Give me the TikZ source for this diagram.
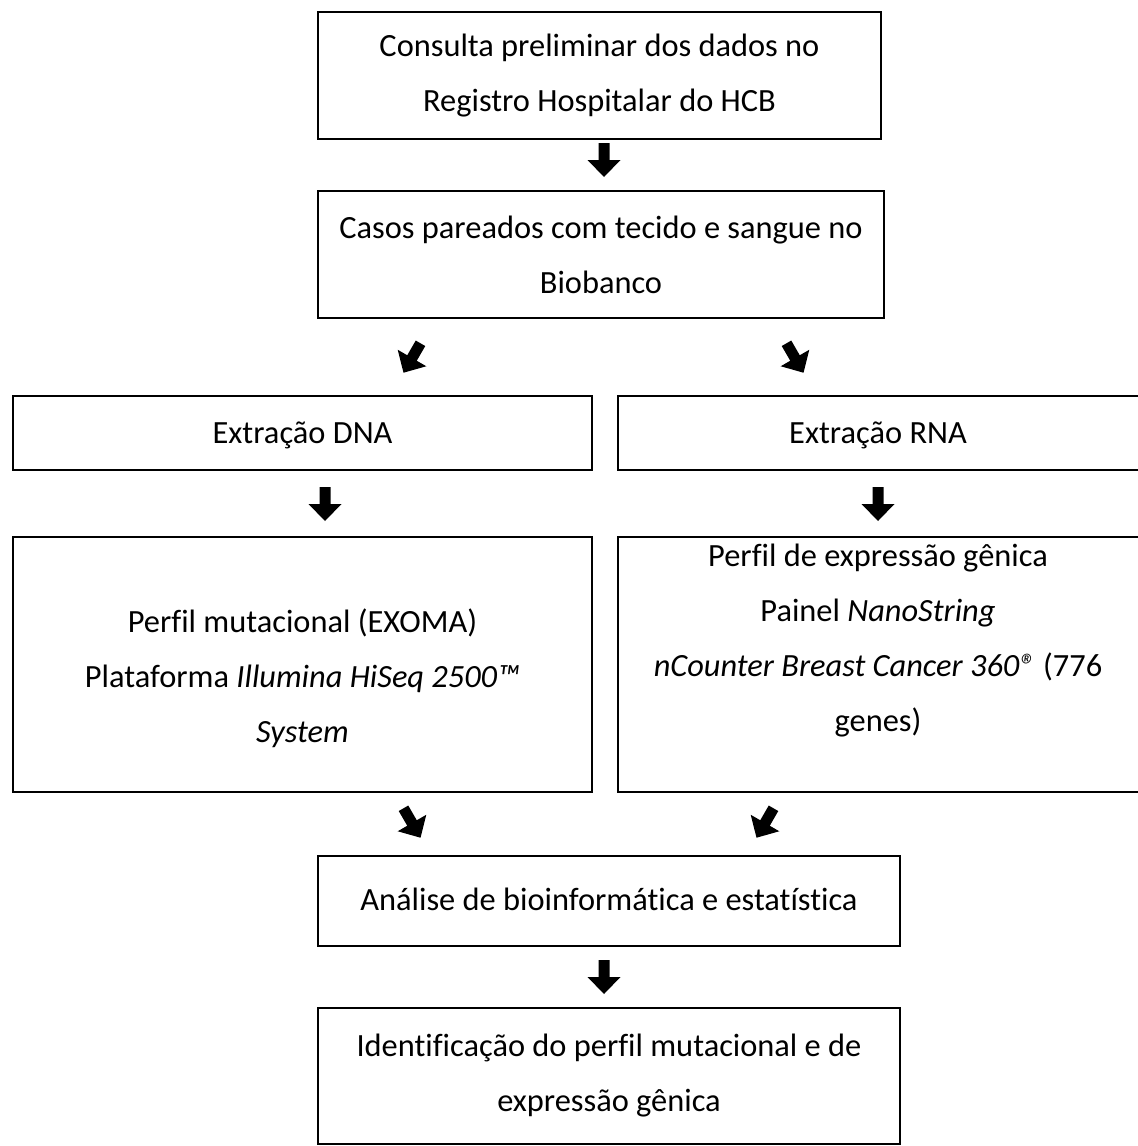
\documentclass[tikz,border=0pt]{standalone}
\usepackage{fontspec}
\setmainfont{Carlito}[Ligatures=NoCommon]
\usepackage{tikz}
\usetikzlibrary{calc}

\tikzset{
    stagebox/.style={draw, line width=1.1pt, inner sep=0pt},
    stagetext/.style={align=center, inner sep=0pt, font=\fontsize{16.2pt}{27.5pt}\selectfont},
    blockarrow/.pic={\fill (-5.5,-17)--(5.5,-17)--(5.5,0)--(16.5,0)--(0,17)--(-16.5,0)--(-5.5,0)--cycle;}
}

\begin{document}
\begin{tikzpicture}[x=0.5pt, y=-0.5pt]
    \useasboundingbox (0,0) rectangle (1137,1146);
    % - Boxes
    \node[stagebox, minimum width=281.5pt, minimum height=63.5pt] (consulta) at (599.5,75.5){};
    \node[stagebox, minimum width=283pt, minimum height=63.5pt] (casos) at (601,254.5){};
    \node[stagebox, minimum width=289.5pt, minimum height=37pt] (dna) at (302.5,433){};
    \node[stagebox, minimum width=266pt, minimum height=37pt] (rna) at (884,433){};
    \node[stagebox, minimum width=289.5pt, minimum height=127.5pt] (exoma) at (302.5,664.5){};
    \node[stagebox, minimum width=266pt, minimum height=127.5pt] (expressao) at (884,664.5){};
    \node[stagebox, minimum width=291pt, minimum height=45pt] (analise) at (609,901){};
    \node[stagebox, minimum width=291pt, minimum height=68pt] (perfil) at (609,1076){};
    % - Box texts
    \node[stagetext] (consultatxt) at (consulta) {Consulta preliminar dos dados no\\Registro Hospitalar do HCB};
    \node[stagetext] (casostxt) at (casos) {Casos pareados com tecido e sangue no\\Biobanco};
    \node[stagetext] (dnatxt) at ($(dna)+(0,2)$) {Extração DNA};
    \node[stagetext] (rnatxt) at ($(rna.center)+(-6,2)$) {Extração RNA};
    \node[stagetext] (exomatxt) at ($(exoma)+(0,14)$)
        {Perfil mutacional (EXOMA)\\Plataforma \textit{Illumina HiSeq 2500™}\\\textit{System}};
    \node[stagetext] (expressaotxt) at ($(expressao.center)+(-6,-24)$)
        {Perfil de expressão gênica\\Painel \textit{NanoString}\\\textit{nCounter Breast Cancer 360®} (776\\genes)};
    \node[stagetext] (analisetxt) at ($(analise)+(0,-2)$) {Análise de bioinformática e estatística};
    \node[stagetext] (perfiltxt) at (perfil) {Identificação do perfil mutacional e de\\expressão gênica};
    % - Block arrows
    \pic at (604,160) {blockarrow};%consulta to casos
    \pic[rotate=-30] at (412,358) {blockarrow};%casos to dna
    \pic[rotate=30] at (795,358) {blockarrow};%casos to rna
    \pic at (325,504) {blockarrow};%dna to exoma
    \pic at (878,504) {blockarrow};%rna to expressao
    \pic[rotate=30] at (412,823) {blockarrow};%exoma to analise
    \pic[rotate=-30] at (765,823) {blockarrow};%expressao to analise
    \pic at (604,977) {blockarrow};%analise to perfil
\end{tikzpicture}
\end{document}
